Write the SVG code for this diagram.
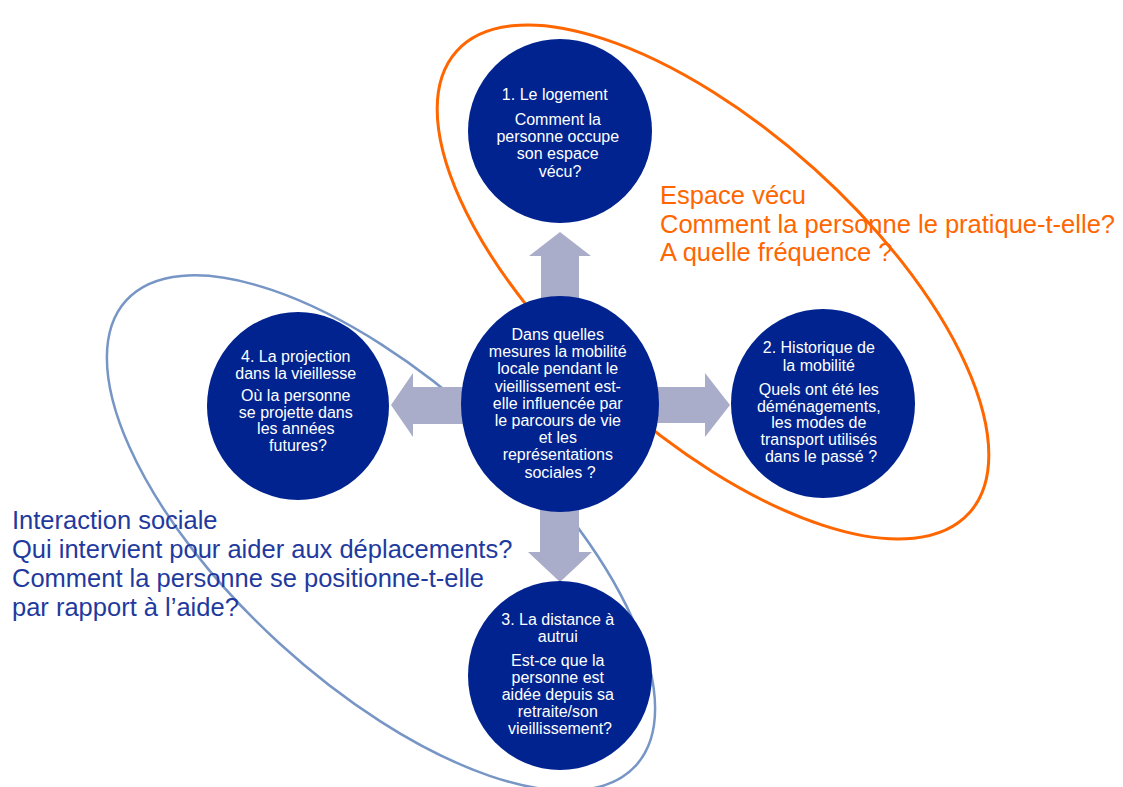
<svg xmlns="http://www.w3.org/2000/svg" width="1123" height="787" viewBox="0 0 1123 787">
<style>
.bg{fill:#ffffff}
.node{fill:#00238F}
.nt{font-family:"Liberation Sans",Arial,sans-serif;font-size:16px;fill:#ffffff;text-anchor:middle}
.arrow{fill:#AAADC9}
.ring-o{fill:none;stroke:#FF6600;stroke-width:3}
.ring-b{fill:none;stroke:#7796C6;stroke-width:2.5}
.ann{font-family:"Liberation Sans",Arial,sans-serif;font-size:25.5px}
.ann-o{fill:#FF6600}
.ann-b{fill:#1F3A9E}
</style>
<rect class="bg" x="0" y="0" width="1123" height="787"/>
<g id="rings">
<ellipse class="ring-o" cx="713" cy="282" rx="345" ry="152" transform="rotate(42 713 282)"/>
<ellipse class="ring-b" cx="381" cy="533" rx="345" ry="150" transform="rotate(42.4 381 533)"/>
</g>
<g id="connectors">
<polygon class="arrow" points="541,320 541,256 529,256 560,232 591,256 579,256 579,320"/>
<polygon class="arrow" points="640,387 705,387 705,373 730,405 705,437 705,423 640,423"/>
<polygon class="arrow" points="480,387 413,387 413,373 391,405 413,437 413,424 480,424"/>
<polygon class="arrow" points="540,490 540,552 528,552 560,582 592,552 579,552 579,490"/>
</g>
<g id="node-center">
<ellipse class="node" cx="560" cy="404" rx="99" ry="108"/>
<text class="nt">
<tspan x="560" y="340">Dans quelles</tspan>
<tspan x="560" y="357.2">mesures la mobilité</tspan>
<tspan x="560" y="374.4">locale pendant le</tspan>
<tspan x="560" y="391.6">vieillissement est-</tspan>
<tspan x="560" y="408.8">elle influencée par</tspan>
<tspan x="560" y="426">le parcours de vie</tspan>
<tspan x="560" y="443.2">et les</tspan>
<tspan x="560" y="460.4">représentations</tspan>
<tspan x="560" y="477.6">sociales ?</tspan>
</text>
</g>
<g id="node-1">
<ellipse class="node" cx="560" cy="131" rx="92" ry="92"/>
<text class="nt">
<tspan x="557" y="100">1. Le logement</tspan>
<tspan x="560" y="125">Comment la</tspan>
<tspan x="560" y="142.2">personne occupe</tspan>
<tspan x="560" y="159.4">son espace</tspan>
<tspan x="560" y="176.6">vécu?</tspan>
</text>
</g>
<g id="node-2">
<ellipse class="node" cx="823" cy="403.5" rx="92" ry="94.5"/>
<text class="nt">
<tspan x="821" y="353">2. Historique de</tspan>
<tspan x="821" y="370.5">la mobilité</tspan>
<tspan x="821" y="395">Quels ont été les</tspan>
<tspan x="821" y="411.7">déménagements,</tspan>
<tspan x="821" y="428.4">les modes de</tspan>
<tspan x="821" y="445">transport utilisés</tspan>
<tspan x="821" y="461.7">dans le passé ?</tspan>
</text>
</g>
<g id="node-3">
<ellipse class="node" cx="560" cy="675.5" rx="92" ry="94.5"/>
<text class="nt">
<tspan x="560" y="625">3. La distance à</tspan>
<tspan x="560" y="642">autrui</tspan>
<tspan x="560" y="666">Est-ce que la</tspan>
<tspan x="560" y="683">personne est</tspan>
<tspan x="560" y="700">aidée depuis sa</tspan>
<tspan x="560" y="717">retraite/son</tspan>
<tspan x="560" y="734">vieillissement?</tspan>
</text>
</g>
<g id="node-4">
<ellipse class="node" cx="298" cy="406" rx="91" ry="94"/>
<text class="nt">
<tspan x="298" y="361.7">4. La projection</tspan>
<tspan x="298" y="379">dans la vieillesse</tspan>
<tspan x="298" y="401">Où la personne</tspan>
<tspan x="298" y="417.5">se projette dans</tspan>
<tspan x="298" y="434">les années</tspan>
<tspan x="298" y="450.5">futures?</tspan>
</text>
</g>
<g id="label-espace">
<text class="ann ann-o">
<tspan x="660" y="204">Espace vécu</tspan>
<tspan x="660" y="232.5">Comment la personne le pratique-t-elle?</tspan>
<tspan x="660" y="261">A quelle fréquence ?</tspan>
</text>
</g>
<g id="label-interaction">
<text class="ann ann-b">
<tspan x="12" y="529">Interaction sociale</tspan>
<tspan x="12" y="558">Qui intervient pour aider aux déplacements?</tspan>
<tspan x="12" y="587">Comment la personne se positionne-t-elle</tspan>
<tspan x="12" y="616">par rapport à l’aide?</tspan>
</text>
</g>
</svg>
